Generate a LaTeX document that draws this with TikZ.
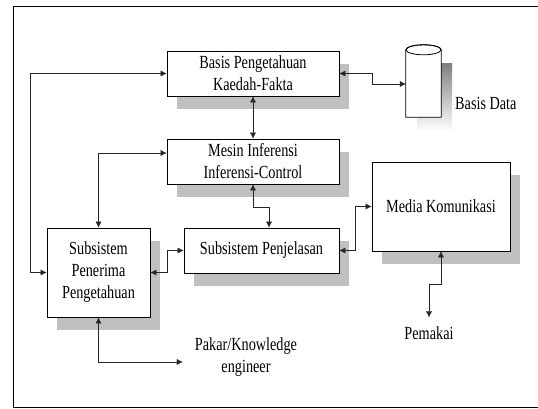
\documentclass[tikz,border=0pt]{standalone}
\usepackage{fontspec}
\setmainfont{Liberation Serif}[FakeStretch=0.77]
\usetikzlibrary{arrows.meta,shadows}
\definecolor{shade}{RGB}{192,192,192}

\begin{document}
\begin{tikzpicture}[x=1pt, y=-1pt,
  font=\fontsize{18.5}{22}\selectfont,
  box/.style={draw, line width=0.8pt, fill=white, inner sep=0, align=center,
    drop shadow={shadow xshift=10pt, shadow yshift=-13pt, fill=shade, opacity=1}},
  link/.style={{Latex[length=6pt,width=6pt]}-{Latex[length=6pt,width=6pt]}, thin, draw=black!85},
  plain/.style={inner sep=2pt, align=center}]
\useasboundingbox (0,0) rectangle (538,408);
\draw [line width=0.8pt] (13,6) rectangle (560,407);

\node [box, minimum width=172pt, minimum height=45pt] (kb) at (253,73.5) {Basis Pengetahuan\\Kaedah-Fakta};
\node [box, minimum width=172pt, minimum height=45pt] (ie) at (253,161.5) {Mesin Inferensi\\Inferensi-Control};
\node [box, minimum width=103pt, minimum height=89pt] (ka) at (98.5,272.5) {Subsistem\\Penerima\\Pengetahuan};
\node [box, minimum width=155pt, minimum height=45pt] (ex) at (261.5,250.5) {Subsistem Penjelasan};
\node [box, minimum width=138pt, minimum height=89pt] (ui) at (441,206.5) {Media Komunikasi};

\fill [shade] (417,63) rectangle (452,131);
\node [inner sep=0, minimum width=35pt, minimum height=72pt] (db) at (423.5,81) {};
\draw [line width=0.8pt, fill=white] ([yshift=-5pt]db.north west) -- (db.south west) -- (db.south east)
  -- ([yshift=-5pt]db.north east)
  arc [start angle=0, end angle=180, x radius=17.5pt, y radius=5pt] -- cycle;
\draw [line width=0.8pt] ([yshift=-5pt]db.north) ellipse [x radius=17.5pt, y radius=5pt];
\node [plain, anchor=west] (dbname) at (453,103) {Basis Data};
\node [plain] (user) at (429,333) {Pemakai};
\node [plain] (expert) at (246,357) {Pakar/Knowledge\\engineer};

\draw [link] (kb.east) -- ++(33,0) |- ([yshift=-3pt]db.west);
\draw [link] (kb.west) -- ++(-136,0) |- (ka.west);
\draw [link] ([yshift=8.5pt]ie.west) -| (ka.north);
\draw [link] (kb.south) -- (ie.north);
\draw [link] (ie.south) -- ++(0,23) -| ([xshift=7.5pt]ex.north);
\draw [link] (ka.east) -- ++(17,0) |- (ex.west);
\draw [link] (ex.east) -- ++(16,0) |- (ui.west);
\draw [link] (ui.south) -- ++(0,33) -| ([yshift=7pt]user.north);
\draw [link] (ka.south) |- ([xshift=-10pt,yshift=-5pt]expert.west);

\end{tikzpicture}
\end{document}
